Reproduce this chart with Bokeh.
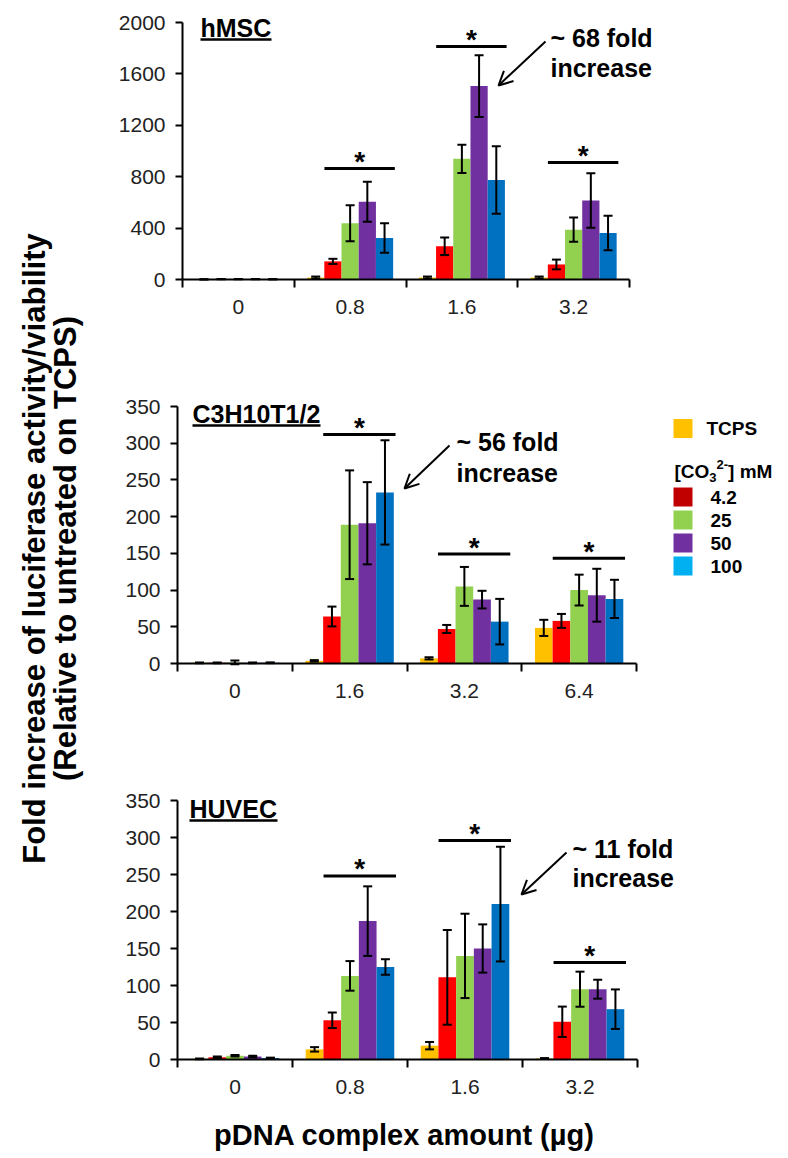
import math
from bokeh.plotting import figure
from bokeh.models import (ColumnDataSource, FixedTicker, Whisker, TeeHead, Label,
                          Arrow, OpenHead, Range1d, CustomJSTickFormatter, LinearAxis)
from bokeh.core.properties import value
from bokeh.embed import file_html
from bokeh.resources import INLINE

FONT = "Liberation Sans"

# ---------------- data ----------------
series_names = ["TCPS", "4.2", "25", "50", "100"]
bar_colors = ["#FFC000", "#FF0000", "#92D050", "#7030A0", "#0070C0"]
legend_colors = ["#FFC000", "#C00000", "#92D050", "#7030A0", "#00B0F0"]

# hMSC
hmsc_doses = ["0", "0.8", "1.6", "3.2"]
hmsc_vals = [
    [1, 15, 15, 15],
    [2, 141, 258, 117],
    [3, 438, 939, 388],
    [3, 605, 1505, 615],
    [2, 323, 774, 362],
]
hmsc_errs = [
    [1, 8, 8, 8],
    [1, 20, 68, 38],
    [1, 140, 110, 95],
    [1, 155, 240, 212],
    [1, 115, 263, 134],
]
hmsc_yticks = [0, 400, 800, 1200, 1600, 2000]
hmsc_sig = [864, 1813, 910]
hmsc_note = ["~ 68 fold", "increase"]

# C3H10T1/2
c3h_doses = ["0", "1.6", "3.2", "6.4"]
c3h_vals = [
    [1, 3.6, 7, 48.5],
    [1, 64, 47, 58],
    [1.5, 189, 105, 100],
    [1, 191, 87, 93],
    [1, 233, 57, 88],
]
c3h_errs = [
    [0.5, 1, 1.5, 11],
    [0.5, 13.5, 5.5, 9.5],
    [2.5, 74, 26.5, 21],
    [0.5, 56, 12, 36],
    [0.5, 71, 31, 26],
]
c3h_yticks = [0, 50, 100, 150, 200, 250, 300, 350]
c3h_sig = [312, 149, 143.5]
c3h_note = ["~ 56 fold", "increase"]

# HUVEC
huvec_doses = ["0", "0.8", "1.6", "3.2"]
huvec_vals = [
    [1, 13.7, 18.7, 1.4],
    [3, 53, 111, 51],
    [5, 113, 140, 95],
    [4, 187, 150, 95],
    [2, 125, 210, 68],
]
huvec_errs = [
    [0.5, 3, 5, 0.5],
    [1, 10.5, 64, 20.5],
    [1, 20, 57, 23.7],
    [1, 47, 32.6, 12.8],
    [0.5, 10.5, 77.5, 26.7],
]
huvec_yticks = [0, 50, 100, 150, 200, 250, 300, 350]
huvec_sig = [248, 296, 131]
huvec_note = ["~ 11 fold", "increase"]

ytitle_lines = ["Fold increase of luciferase activity/viability",
                "(Relative to untreated on TCPS)"]
xtitle = "pDNA complex amount (\u00b5g)"

# ---------------- geometry (page pixels) ----------------
W, H = 788, 1158
BW = 0.154

P1 = dict(name="p1", left=182, right=629, top=22, bottom=279, ymax=2000)
P2 = dict(name="p2", left=177, right=636, top=406, bottom=663, ymax=350)
P3 = dict(name="p3", left=177, right=637, top=800, bottom=1059, ymax=350)


def px2x(P, px):
    return 4.0 * (px - P["left"]) / (P["right"] - P["left"])


def px2y(P, py):
    return P["ymax"] * (P["bottom"] - py) / (P["bottom"] - P["top"])


def hpx(P, n):
    return P["ymax"] * n / (P["bottom"] - P["top"])


def gx(px):
    return px


def gy(py):
    return H - py


p = figure(width=W, height=H, x_range=Range1d(0, W), y_range=Range1d(0, H),
           output_backend="svg", toolbar_location=None, title=None,
           x_axis_location=None, y_axis_location=None, min_border=0)
p.xgrid.visible = False
p.ygrid.visible = False
p.outline_line_color = None
p.background_fill_color = "white"
p.border_fill_color = "white"

for P in (P1, P2, P3):
    p.extra_x_ranges[P["name"] + "x"] = Range1d(px2x(P, 0), px2x(P, W))
    p.extra_y_ranges[P["name"] + "y"] = Range1d(px2y(P, H), px2y(P, 0))


def lab(P, x, y, text, size, align="left", baseline="middle", angle=0):
    kw = {}
    if P is not None:
        kw = dict(x_range_name=P["name"] + "x", y_range_name=P["name"] + "y")
    return Label(x=x, y=y, text=text, text_font=FONT, text_font_size=size,
                 text_font_style="bold", text_align=align, text_baseline=baseline,
                 text_color="black", angle=angle, **kw)


def build_panel(P, doses, vals, errs, yticks, sig_y, title, title_pos, title_w,
                note, note_pos, arrow_pos):
    rn = dict(x_range_name=P["name"] + "x", y_range_name=P["name"] + "y")
    for i in range(5):
        xs = [k + 0.5 + (i - 2) * BW for k in range(4)]
        up = [v + e for v, e in zip(vals[i], errs[i])]
        lo = [v - e for v, e in zip(vals[i], errs[i])]
        src = ColumnDataSource(dict(x=xs, top=vals[i], upper=up, lower=lo))
        p.vbar(x="x", top="top", bottom=0, width=BW, source=src,
               fill_color=bar_colors[i], line_color=None, **rn)
        w = Whisker(source=src, base="x", upper="upper", lower="lower",
                    dimension="height", line_color="black", line_width=2,
                    upper_head=TeeHead(size=9, line_width=2, line_color="black"),
                    lower_head=TeeHead(size=9, line_width=2, line_color="black"),
                    level="annotation", **rn)
        p.add_layout(w)

    cats = [1, 2, 3]
    sx0 = [k + 0.5 - 0.23 for k in cats]
    sx1 = [k + 0.5 + 0.40 for k in cats]
    p.segment(x0=sx0, y0=sig_y, x1=sx1, y1=sig_y, line_width=3, line_color="black", **rn)
    p.text(x=[k + 0.5 + 0.085 for k in cats], y=[s + hpx(P, 7) for s in sig_y],
           text=["*"] * 3, text_font=value(FONT), text_font_size="28px",
           text_font_style="bold", text_align="center", text_baseline="middle",
           text_color="black", **rn)

    tx, ty = title_pos
    p.add_layout(lab(P, px2x(P, tx), px2y(P, ty), title, "25px"))
    p.segment(x0=[px2x(P, tx)], x1=[px2x(P, tx + title_w)],
              y0=[px2y(P, ty + 12)], y1=[px2y(P, ty + 12)],
              line_width=2.5, line_color="black", **rn)

    nx, ny1, ny2 = note_pos
    p.add_layout(lab(P, px2x(P, nx), px2y(P, ny1), note[0], "25px"))
    p.add_layout(lab(P, px2x(P, nx), px2y(P, ny2), note[1], "25px"))
    (ax0, ay0), (ax1, ay1) = arrow_pos
    p.add_layout(Arrow(end=OpenHead(size=14, line_width=2, line_color="black"),
                       x_start=px2x(P, ax0), y_start=px2y(P, ay0),
                       x_end=px2x(P, ax1), y_end=px2y(P, ay1),
                       line_width=2, line_color="black", **rn))

    xa = LinearAxis(fixed_location=0, bounds=(0, 4),
                    ticker=FixedTicker(ticks=[0.5, 1.5, 2.5, 3.5],
                                       minor_ticks=[0, 1, 2, 3, 4]),
                    formatter=CustomJSTickFormatter(args=dict(labels=doses),
                                                    code="return labels[Math.floor(tick)];"),
                    **rn)
    xa.major_tick_out = 0
    xa.major_tick_in = 0
    xa.minor_tick_out = 8
    xa.minor_tick_in = 0
    xa.minor_tick_line_width = 2
    xa.minor_tick_line_color = "black"
    xa.axis_line_width = 2
    xa.axis_line_color = "black"
    xa.major_label_text_font = FONT
    xa.major_label_text_font_size = "21px"
    xa.major_label_text_color = "#222222"
    xa.major_label_standoff = 12
    p.add_layout(xa, "below")

    ya = LinearAxis(fixed_location=0, bounds=(0, P["ymax"]),
                    ticker=FixedTicker(ticks=yticks), **rn)
    ya.minor_tick_line_color = None
    ya.major_tick_out = 7
    ya.major_tick_in = 0
    ya.major_tick_line_width = 2
    ya.major_tick_line_color = "black"
    ya.axis_line_width = 2
    ya.axis_line_color = "black"
    ya.major_label_text_font = FONT
    ya.major_label_text_font_size = "21px"
    ya.major_label_text_color = "#222222"
    ya.major_label_standoff = 10
    p.add_layout(ya, "left")


build_panel(P1, hmsc_doses, hmsc_vals, hmsc_errs, hmsc_yticks, hmsc_sig, "hMSC",
            (200, 27), 71, hmsc_note, (550, 37, 67), ((545, 41), (498, 85)))
build_panel(P2, c3h_doses, c3h_vals, c3h_errs, c3h_yticks, c3h_sig, "C3H10T1/2",
            (192, 413), 128, c3h_note, (456, 441, 472), ((449, 445), (404, 488)))
build_panel(P3, huvec_doses, huvec_vals, huvec_errs, huvec_yticks, huvec_sig, "HUVEC",
            (189, 808), 88, huvec_note, (572, 848, 877), ((566, 852), (521, 894)))

# x title
p.add_layout(lab(None, gx(404), gy(1134), xtitle, "29px", align="center",
                 baseline="middle"))

# y title (two rotated lines)
p.add_layout(lab(None, gx(34), gy(548), ytitle_lines[0], "31px", align="center",
                 angle=math.pi / 2))
p.add_layout(lab(None, gx(65), gy(548), ytitle_lines[1], "31px", align="center",
                 angle=math.pi / 2))

# ---------------- legend ----------------
sq_py = [428, 496.5, 519.5, 542.5, 565.5]
p.rect(x=[gx(682.5)] * 5, y=[gy(v) for v in sq_py], width=19, height=19,
       fill_color=legend_colors, line_color=None)
p.text(x=[gx(706)] + [gx(710)] * 4, y=[gy(v) for v in sq_py], text=series_names,
       text_font=value(FONT), text_font_size="19px", text_font_style="bold",
       text_baseline="middle", text_color="black")
hx, hy = gx(674), gy(471)
parts = [("[CO", 0, 19, 0), ("3", 34.8, 13, -6), ("2-", 42.0, 13, 7), ("] mM", 53.6, 19, 0)]
for t, dxp, fs, dyp in parts:
    p.text(x=[hx + dxp], y=[hy + dyp], text=[t], text_font=value(FONT),
           text_font_size=f"{fs}px", text_font_style="bold", text_baseline="middle",
           text_color="black")

open("out.html", "w").write(file_html(p, INLINE))
